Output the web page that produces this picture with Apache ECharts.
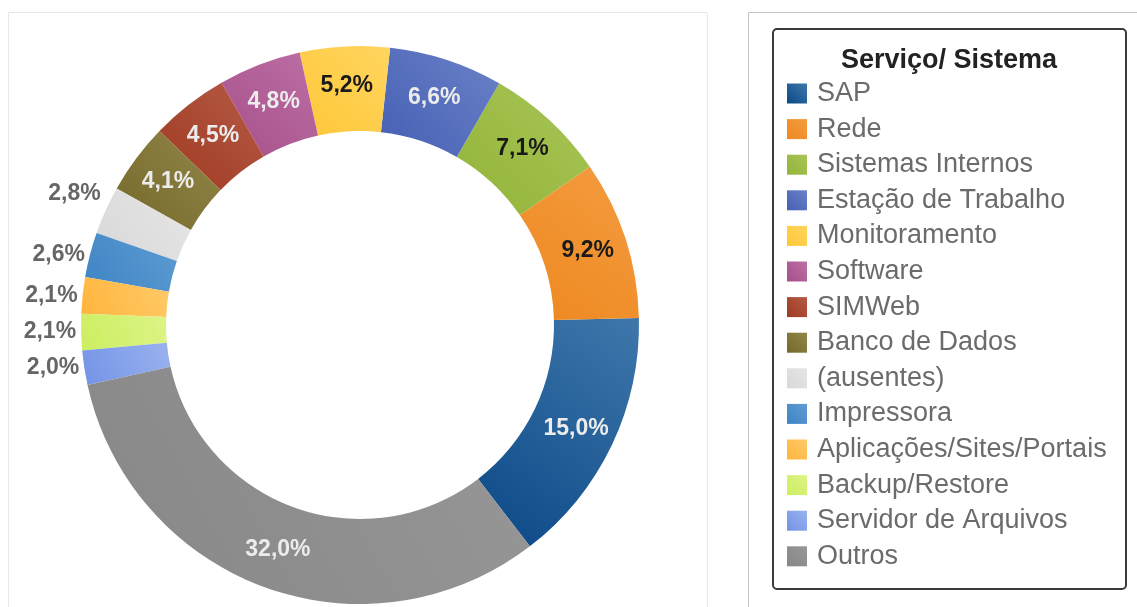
<!DOCTYPE html>
<html>
<head>
<meta charset="utf-8">
<title>Serviço/ Sistema</title>
<script src="https://cdn.jsdelivr.net/npm/echarts@6/dist/echarts.min.js"></script>
<style>
  html, body { margin: 0; padding: 0; background: #fff; }
  #chart { width: 1137px; height: 607px; }
</style>
</head>
<body>
<div id="chart"></div>
<script>
// data (share of tickets, %)
const categories = [
  'SAP', 'Rede', 'Sistemas Internos', 'Estação de Trabalho', 'Monitoramento',
  'Software', 'SIMWeb', 'Banco de Dados', '(ausentes)', 'Impressora',
  'Aplicações/Sites/Portais', 'Backup/Restore', 'Servidor de Arquivos', 'Outros'
];
const shares = [15.0, 9.2, 7.1, 6.6, 5.2, 4.8, 4.5, 4.1, 2.8, 2.6, 2.1, 2.1, 2.0, 32.0];

// slice colours, light -> dark (gradient like the office chart)
const lightColors = [
  '#3f77ab', '#f49c40', '#a9c556', '#6b82c7', '#ffd55f', '#bc6fa4', '#b55b45',
  '#928748', '#e6e6e6', '#5e9cd2', '#ffca68', '#ddf487', '#9ab2ef', '#979797'
];
const darkColors = [
  '#0a4886', '#ee8820', '#92b439', '#455fb4', '#ffc738', '#a74f8a', '#9f3922',
  '#74682a', '#d8d8d8', '#3e84c5', '#ffb53d', '#ccee60', '#7393e6', '#878787'
];
const darkTextCategories = ['Rede', 'Sistemas Internos', 'Monitoramento'];
const outsideLimit = 3; // small slices get their label outside the ring

const FONT = '"Liberation Sans", Arial, sans-serif';

const chart = echarts.init(document.getElementById('chart'));

const pieData = categories.map((name, i) => {
  const item = {
    name: name,
    value: shares[i],
    itemStyle: {
      color: new echarts.graphic.LinearGradient(1, 0, 0, 1, [
        { offset: 0, color: lightColors[i] },
        { offset: 1, color: darkColors[i] }
      ])
    }
  };
  if (shares[i] < outsideLimit) {
    item.label = { position: 'outside', color: '#666666' };
  } else if (darkTextCategories.includes(name)) {
    item.label = { color: '#1a1a1a' };
  }
  return item;
});

chart.setOption({
  animation: false,
  backgroundColor: '#ffffff',
  title: {
    text: 'Serviço/ Sistema',
    left: 949,
    top: 47,
    textAlign: 'center',
    padding: 0,
    textStyle: {
      fontFamily: FONT,
      fontSize: 27,
      fontWeight: 'bold',
      color: '#222222'
    }
  },
  legend: {
    orient: 'vertical',
    left: 787,
    top: 80,
    padding: 0,
    icon: 'rect',
    itemWidth: 20,
    itemHeight: 20,
    itemGap: 8.6,
    selectedMode: false,
    data: categories,
    textStyle: {
      fontFamily: FONT,
      fontSize: 27,
      color: '#6b6b6b',
      padding: [0, 0, 0, 5]
    }
  },
  graphic: [
    {
      type: 'rect',
      silent: true,
      shape: { x: 8.5, y: 12.5, width: 699, height: 610 },
      style: { fill: 'none', stroke: '#e8e8e8', lineWidth: 1 }
    },
    {
      type: 'polyline',
      silent: true,
      shape: { points: [[748.5, 620], [748.5, 12.5], [1140, 12.5]] },
      style: { fill: 'none', stroke: '#c2c2c2', lineWidth: 1 }
    },
    {
      type: 'rect',
      silent: true,
      shape: { x: 773, y: 29, width: 353, height: 560, r: 4 },
      style: { fill: 'none', stroke: '#3a3a3a', lineWidth: 2 }
    }
  ],
  series: [
    {
      type: 'pie',
      center: [360, 325],
      radius: [194, 279],
      startAngle: -52.5,
      clockwise: false,
      avoidLabelOverlap: false,
      data: pieData,
      label: {
        show: true,
        position: 'inside',
        fontFamily: FONT,
        fontSize: 23,
        fontWeight: 'bold',
        color: '#ececec',
        distanceToLabelLine: 5,
        formatter: p => p.value.toFixed(1).replace('.', ',') + '%'
      },
      labelLine: { show: false, length: 0, length2: 0 },
      // the "(ausentes)" label sits a bit higher in the original
      labelLayout: p => (categories[p.dataIndex] === '(ausentes)' ? { dy: -17 } : {}),
      emphasis: { disabled: true }
    }
  ]
});
</script>
</body>
</html>
